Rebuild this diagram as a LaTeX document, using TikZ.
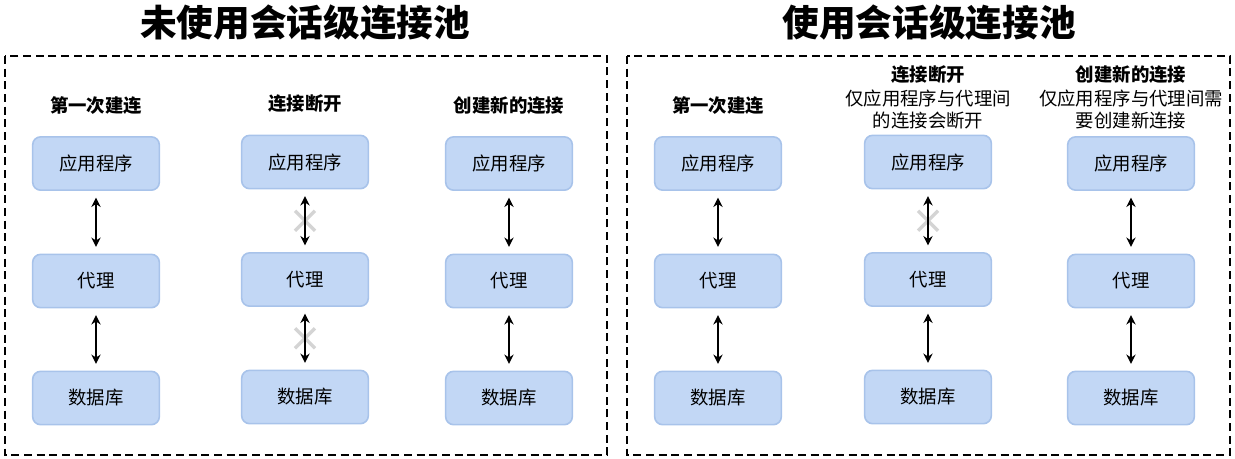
\documentclass[tikz,border=0pt]{standalone}
\usepackage{fontspec}
\setmainfont{Noto Sans CJK SC}
\usetikzlibrary{arrows.meta}
\definecolor{boxfill}{HTML}{C2D7F5}
\definecolor{boxline}{HTML}{A8C3EA}
\definecolor{crossc}{HTML}{D4D4D4}
\tikzset{
  comp/.style={draw=boxline, fill=boxfill, line width=1.2pt, rounded corners=6pt, minimum width=95pt, minimum height=40pt, font=\fontsize{13.8pt}{16pt}\selectfont, inner sep=0pt},
  panel/.style={draw=black, line width=1.9pt, dash pattern=on 6pt off 3.5pt},
  ttl/.style={font=\fontsize{27.5pt}{32pt}\selectfont\bfseries},
  head/.style={font=\fontsize{13.8pt}{16pt}\selectfont\bfseries},
  sub/.style={font=\fontsize{13.8pt}{16.5pt}\selectfont, align=center},
  link/.style={{Stealth[length=7pt,width=7pt]}-{Stealth[length=7pt,width=7pt]}, line width=1.5pt, shorten <=5pt, shorten >=5pt},
  crossm/.style={draw=crossc, line width=2.6pt}
}
\begin{document}
\begin{tikzpicture}[x=0.75pt,y=-0.75pt]
\useasboundingbox (0,0) rectangle (1235,458);
% titles
\node[ttl] (t1) at (305,23) {未使用会话级连接池};
\node[ttl] (t2) at (929,23) {使用会话级连接池};
% panels
\draw[panel] (5,56) rectangle (607,455);
\draw[panel] (627,56) rectangle (1230,455);
% left panel headings
\node[head] (h1) at (96,106) {第一次建连};
\node[head] (h2) at (305,104) {连接断开};
\node[head] (h3) at (509,106) {创建新的连接};
% right panel headings
\node[head] (h4) at (718,106) {第一次建连};
\node[head] (h5) at (928,75) {连接断开};
\node[sub, anchor=north] (s5) at (928,85) {仅应用程序与代理间\\的连接会断开};
\node[head] (h6) at (1131,75) {创建新的连接};
\node[sub, anchor=north] (s6) at (1131,85) {仅应用程序与代理间需\\要创建新连接};
% left panel columns
\node[comp] (a1) at (96,163.5) {应用程序};
\node[comp] (p1) at (96,281) {代理};
\node[comp] (d1) at (96,398) {数据库};
\node[comp] (a2) at (305,162) {应用程序};
\node[comp] (p2) at (305,279.5) {代理};
\node[comp] (d2) at (305,397) {数据库};
\node[comp] (a3) at (509,163.5) {应用程序};
\node[comp] (p3) at (509,281) {代理};
\node[comp] (d3) at (509,398) {数据库};
% right panel columns
\node[comp] (a4) at (718,163.5) {应用程序};
\node[comp] (p4) at (718,281) {代理};
\node[comp] (d4) at (718,398) {数据库};
\node[comp] (a5) at (928,162) {应用程序};
\node[comp] (p5) at (928,279.5) {代理};
\node[comp] (d5) at (928,397) {数据库};
\node[comp] (a6) at (1131,163.5) {应用程序};
\node[comp] (p6) at (1131,281) {代理};
\node[comp] (d6) at (1131,398) {数据库};
% crosses (behind arrows)
\path (a2.south) -- (p2.north) coordinate[pos=0.5] (c1);
\path (p2.south) -- (d2.north) coordinate[pos=0.5] (c2);
\path (a5.south) -- (p5.north) coordinate[pos=0.5] (c3);
\foreach \c in {c1,c2,c3}{
  \draw[crossm] ([shift={(-10,-10)}]\c) -- ([shift={(10,10)}]\c);
  \draw[crossm] ([shift={(-10,10)}]\c) -- ([shift={(10,-10)}]\c);
}
% links
\foreach \u/\v in {a1/p1,p1/d1,a2/p2,p2/d2,a3/p3,p3/d3,a4/p4,p4/d4,a5/p5,p5/d5,a6/p6,p6/d6}{
  \draw[link] (\u) -- (\v);
}
\end{tikzpicture}
\end{document}
